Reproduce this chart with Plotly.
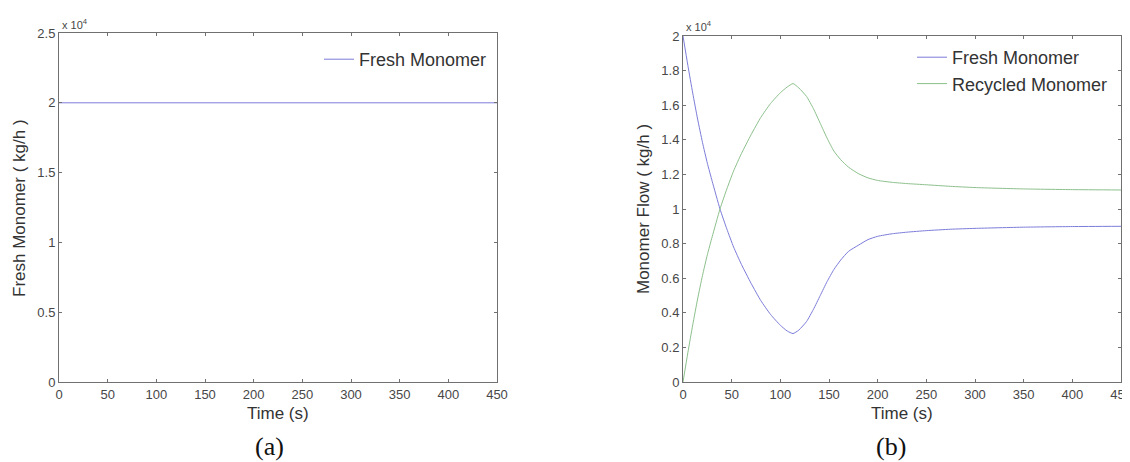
import plotly.graph_objects as go

# ---- data ----
time_a = [0, 50, 100, 150, 200, 250, 300, 350, 400, 450]
fresh_a = [20000, 20000, 20000, 20000, 20000, 20000, 20000, 20000, 20000, 20000]

time_b = [0, 5, 10, 15, 20, 25, 30, 38, 45, 52, 60, 70, 80, 90, 100, 107, 113, 119,
          127, 134, 141, 148, 155, 162, 170, 180, 190, 200, 215, 230, 250, 275, 300,
          350, 400, 450]
fresh_b = [20000, 18300, 16700, 15200, 13850, 12650, 11600, 10000, 8850, 7800, 6800,
           5700, 4700, 3900, 3280, 2950, 2800, 3000, 3500, 4200, 5000, 5800, 6500, 7050,
           7550, 7900, 8230, 8420, 8570, 8660, 8750, 8830, 8880, 8950, 8985, 9000]
recycled_b = [0, 1700, 3300, 4800, 6150, 7350, 8400, 10000, 11150, 12200, 13200,
              14300, 15300, 16100, 16720, 17050, 17250, 17000, 16500, 15800, 14950,
              14100, 13350, 12850, 12420, 12050, 11800, 11650, 11540, 11470, 11400,
              11310, 11240, 11160, 11120, 11100]

x_ticks = [0, 50, 100, 150, 200, 250, 300, 350, 400, 450]
ya_ticks = [0, 5000, 10000, 15000, 20000, 25000]
ya_text = ["0", "0.5", "1", "1.5", "2", "2.5"]
yb_ticks = [0, 2000, 4000, 6000, 8000, 10000, 12000, 14000, 16000, 18000, 20000]
yb_text = ["0", "0.2", "0.4", "0.6", "0.8", "1", "1.2", "1.4", "1.6", "1.8", "2"]

BLUE = "#7c7cda"
GREEN = "#8cc08c"
AX = "#707070"
TXT = "#333333"
TICKTXT = "#474747"
FONT = "Liberation Sans, Arial, sans-serif"
SERIF = "Liberation Serif, Times New Roman, serif"

W, H = 1130, 462
OFF = 8  # page body margin of the browser
def px(x): return (x - OFF) / W
def py(y): return 1 - (y - OFF) / H

fig = go.Figure()
fig.add_trace(go.Scatter(x=time_a, y=fresh_a, mode="lines", name="Fresh Monomer",
                         line=dict(color=BLUE, width=1), xaxis="x", yaxis="y", legend="legend"))
fig.add_trace(go.Scatter(x=time_b, y=fresh_b, mode="lines", name="Fresh Monomer",
                         line=dict(color=BLUE, width=1, shape="spline", smoothing=0.5),
                         xaxis="x2", yaxis="y2", legend="legend2"))
fig.add_trace(go.Scatter(x=time_b, y=recycled_b, mode="lines", name="Recycled Monomer",
                         line=dict(color=GREEN, width=1, shape="spline", smoothing=0.5),
                         xaxis="x2", yaxis="y2", legend="legend2"))

axis_common = dict(showline=True, linecolor=AX, linewidth=1, mirror="ticks",
                   ticks="inside", ticklen=3, tickcolor=AX, showgrid=False, zeroline=False,
                   automargin=False,
                   tickfont=dict(family=FONT, size=13, color=TICKTXT))

fig.update_layout(
    width=W, height=H, margin=dict(l=0, r=0, t=0, b=0, autoexpand=False),
    paper_bgcolor="white", plot_bgcolor="white",
    xaxis=dict(domain=[px(59), px(497)], range=[0, 450], tickvals=x_ticks, anchor="y", **axis_common),
    yaxis=dict(domain=[py(382), py(33)], range=[0, 25000], tickvals=ya_ticks, ticktext=ya_text,
               anchor="x", **axis_common),
    xaxis2=dict(domain=[px(683), px(1121)], range=[0, 450], tickvals=x_ticks, anchor="y2", **axis_common),
    yaxis2=dict(domain=[py(382), py(36)], range=[0, 20000], tickvals=yb_ticks, ticktext=yb_text,
                anchor="x2", **axis_common),
    legend=dict(x=px(492), y=py(41), xanchor="right", yanchor="top",
                font=dict(family=FONT, size=18, color=TXT), bgcolor="rgba(0,0,0,0)",
                itemwidth=30, tracegroupgap=0),
    legend2=dict(x=px(1113), y=py(39), xanchor="right", yanchor="top",
                 font=dict(family=FONT, size=18, color=TXT), bgcolor="rgba(0,0,0,0)",
                 itemwidth=30, tracegroupgap=0),
    showlegend=True,
)

def note(x, y, text, size, family=FONT, color=TXT, xanchor="center", angle=0):
    return dict(x=px(x), y=py(y), xref="paper", yref="paper", text=text, showarrow=False,
                xanchor=xanchor, yanchor="middle", textangle=angle,
                font=dict(family=family, size=size, color=color))

ann = [
    note(60, 24, "x 10<sup>4</sup>", 11, color=TICKTXT, xanchor="left"),
    note(684, 26, "x 10<sup>4</sup>", 11, color=TICKTXT, xanchor="left"),
    note(278, 413, "Time (s)", 17),
    note(902, 413, "Time (s)", 17),
    note(19, 208, "Fresh Monomer ( kg/h )", 17, angle=-90),
    note(643, 209, "Monomer Flow ( kg/h )", 17, angle=-90),
    note(269, 446, "(a)", 26, family=SERIF, color="#111111"),
    note(891, 446, "(b)", 26, family=SERIF, color="#111111"),
]
fig.update_layout(annotations=ann)

fig.write_html("out.html")
